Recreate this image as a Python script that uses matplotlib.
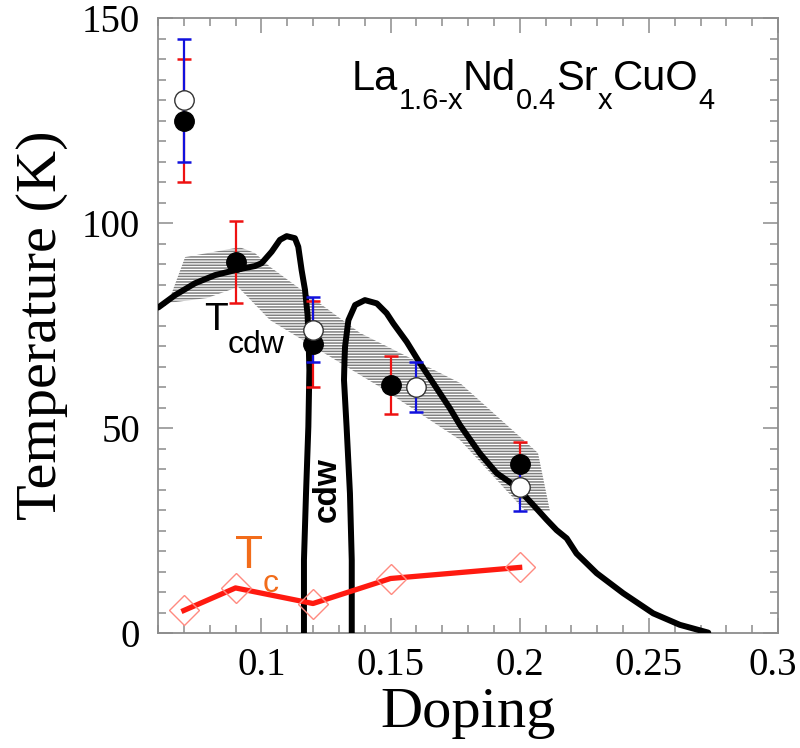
import matplotlib
matplotlib.use("Agg")
import matplotlib.pyplot as plt
from matplotlib.ticker import MultipleLocator
from matplotlib.patches import Polygon
from matplotlib.transforms import ScaledTranslation

# ---------------- data ----------------
# T_cdw, filled circles (red error bars)
doping_filled = [0.07, 0.09, 0.12, 0.15, 0.20]
tcdw_filled = [125.0, 90.5, 70.5, 60.5, 41.2]
err_filled = [15.0, 10.0, 10.5, 7.0, 5.5]

# T_cdw, open circles (blue error bars)
doping_open = [0.07, 0.12, 0.16, 0.20]
tcdw_open = [130.0, 74.0, 60.0, 35.7]
err_open = [15.0, 8.0, 6.0, 6.0]

# Tc (red line with open diamonds)
doping_tc = [0.07, 0.09, 0.12, 0.15, 0.20]
tc_vals = [5.5, 11.0, 7.2, 13.3, 16.0]

# hatched T_cdw band
band_x = [0.0639, 0.0705, 0.0917, 0.0975, 0.1034, 0.1382, 0.1769, 0.2071, 0.2117,
          0.2021, 0.1769, 0.1459, 0.1034, 0.0910, 0.0790]
band_y = [80.5, 91.7, 94.1, 92.7, 89.3, 73.2, 61.0, 43.9, 29.8,
          29.8, 47.1, 60.0, 76.3, 84.4, 81.7]

# left cdw dome boundary
dome1_x = [0.0601, 0.0666, 0.0743, 0.0821, 0.0911, 0.0975, 0.1001, 0.1040, 0.1072,
           0.1098, 0.1130, 0.1143, 0.1156, 0.1169, 0.1179, 0.1183, 0.1186, 0.1182,
           0.1173, 0.1165, 0.1165]
dome1_y = [79.4, 82.4, 85.3, 87.3, 88.7, 89.5, 90.2, 93.0, 95.9,
           96.8, 96.3, 94.2, 88.5, 83.7, 77.6, 71.5, 64.1, 50.3,
           34.1, 17.8, 0.0]

# right cdw dome boundary
dome2_x = [0.1350, 0.1350, 0.1343, 0.1330, 0.1320, 0.1322, 0.1324, 0.1337, 0.1363,
           0.1401, 0.1447, 0.1485, 0.1511, 0.1563, 0.1614, 0.1666, 0.1730, 0.1769,
           0.1846, 0.1911, 0.1986, 0.2053, 0.2105, 0.2143, 0.2182, 0.2220, 0.2298,
           0.2401, 0.2517, 0.2620, 0.2730]
dome2_y = [0.0, 17.8, 34.1, 50.3, 61.7, 66.6, 69.8, 76.3, 80.0,
           81.2, 80.4, 78.0, 75.5, 71.0, 65.8, 60.9, 54.8, 50.7,
           43.8, 39.0, 35.7, 31.2, 27.6, 25.1, 23.1, 19.4, 14.6,
           9.7, 4.8, 2.0, 0.1]

x_ticks = [0.1, 0.15, 0.2, 0.25, 0.3]
x_ticklabels = ["0.1", "0.15", "0.2", "0.25", "0.3"]
y_ticks = [0, 50, 100, 150]
y_ticklabels = ["0", "50", "100", "150"]

# ---------------- figure ----------------
plt.rcParams['hatch.linewidth'] = 1.1

fig = plt.figure(figsize=(8.0, 7.48), dpi=100)
ax = fig.add_axes([0.1975, 0.1537, 0.775, 0.8222])
ax.set_xlim(0.06, 0.30)
ax.set_ylim(0, 150)

serif = ['Liberation Serif', 'DejaVu Serif']
sans = ['Liberation Sans', 'DejaVu Sans']

# band
band = Polygon(list(zip(band_x, band_y)), closed=True, facecolor='none',
               edgecolor='#808080', linewidth=0, hatch='------', zorder=1)
ax.add_patch(band)

# dome curves
ax.plot(dome1_x, dome1_y, color='black', lw=4.3, solid_joinstyle='round',
        solid_capstyle='round', zorder=3)
ax.plot(dome2_x, dome2_y, color='black', lw=4.3, solid_joinstyle='round',
        solid_capstyle='round', zorder=3)

# Tc
ax.plot(doping_tc, tc_vals, color='#ff1a10', lw=3.8, zorder=4)
ax.plot(doping_tc, tc_vals, ls='none', marker='D', ms=15, mfc='none',
        mec='#ff8a80', mew=1.0, zorder=5)

# error bars
ax.errorbar(doping_filled, tcdw_filled, yerr=err_filled, fmt='none',
            ecolor='#ee1111', elinewidth=1.6, capsize=5, capthick=1.8, zorder=6)
ax.errorbar(doping_open, tcdw_open, yerr=err_open, fmt='none',
            ecolor='#1111dd', elinewidth=1.6, capsize=5, capthick=1.8, zorder=7)

# circles
ax.plot(doping_filled, tcdw_filled, ls='none', marker='o', ms=14, mfc='black',
        mec='black', mew=1.0, zorder=8)
ax.plot(doping_open, tcdw_open, ls='none', marker='o', ms=14, mfc='white',
        mec='#333333', mew=1.0, zorder=9)

# axes styling
for sp in ax.spines.values():
    sp.set_color('#8c8c8c')
    sp.set_linewidth(1.3)
ax.set_xticks(x_ticks)
ax.set_xticklabels(x_ticklabels)
ax.set_yticks(y_ticks)
ax.set_yticklabels(y_ticklabels)
ax.xaxis.set_minor_locator(MultipleLocator(0.01))
ax.yaxis.set_minor_locator(MultipleLocator(5))
ax.tick_params(which='both', direction='in', top=True, right=True,
               color='#8c8c8c', width=1.1)
ax.tick_params(which='major', length=11)
ax.tick_params(which='minor', length=6)
ax.tick_params(axis='x', which='major', pad=10)
ax.tick_params(axis='y', which='major', pad=13)
for lab in ax.get_xticklabels() + ax.get_yticklabels():
    lab.set_family(serif)
    lab.set_fontsize(28)
# keep the last x label inside the canvas
last = ax.get_xticklabels()[-1]
last.set_transform(last.get_transform() + ScaledTranslation(-0.05, 0, fig.dpi_scale_trans))

ax.set_xlabel('Doping', family=serif, fontsize=42, labelpad=2)
ax.set_ylabel('Temperature (K)', family=serif, fontsize=42, labelpad=10)

renderer = fig.canvas.get_renderer()


def rich(x, y, parts, color, family, weight='normal'):
    off = 0.0
    for s, size, dy in parts:
        t = ax.annotate(s, xy=(x, y), xycoords='data', xytext=(off, dy),
                        textcoords='offset pixels', fontsize=size, color=color,
                        family=family, ha='left', va='baseline', weight=weight,
                        zorder=10)
        off += t.get_window_extent(renderer).width


rich(0.1351, 132.4, [("La", 30, 0), ("1.6-x", 21, -19), ("Nd", 30, 0), ("0.4", 21, -19),
                     ("Sr", 30, 0), ("x", 21, -19), ("CuO", 30, 0), ("4", 21, -19)],
     'black', sans)
rich(0.0778, 73.9, [("T", 28, 0), ("cdw", 23, -23)], 'black', sans)
rich(0.0898, 15.9, [("T", 33, 0), ("c", 23, -24)], '#f26c1a', sans)

ax.text(0.1254, 34.9, 'cdw', rotation=90, ha='center', va='center', fontsize=24,
        family=sans, weight='bold', color='black', zorder=10)

fig.savefig('out.png', dpi=100)
